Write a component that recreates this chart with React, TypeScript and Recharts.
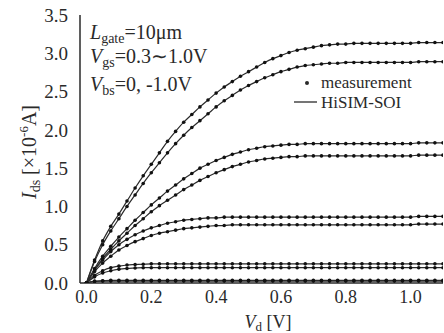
import React from "react";
import { LineChart, Line, XAxis, YAxis, Customized } from "recharts";

// drain voltage Vd [V]
const vd = [
  0, 0.025, 0.05, 0.075, 0.1, 0.125, 0.15, 0.175, 0.2,
  0.225, 0.25, 0.275, 0.3, 0.325, 0.35, 0.375, 0.4, 0.425,
  0.45, 0.475, 0.5, 0.525, 0.55, 0.575, 0.6, 0.625, 0.65,
  0.675, 0.7, 0.725, 0.75, 0.775, 0.8, 0.825, 0.85, 0.875,
  0.9, 0.925, 0.95, 0.975, 1.0, 1.025, 1.05, 1.075, 1.1,
];

// Ids [x10^-6 A], highest Vgs first, Vbs = 0 then Vbs = -1.0V
const idsA = [
  0, 0.3, 0.55, 0.74, 0.9, 1.07, 1.24, 1.4, 1.55,
  1.7, 1.85, 1.98, 2.1, 2.2, 2.3, 2.39, 2.48, 2.56,
  2.63, 2.7, 2.76, 2.82, 2.88, 2.93, 2.97, 3.01, 3.04,
  3.06, 3.08, 3.1, 3.11, 3.12, 3.12, 3.13, 3.13, 3.13,
  3.13, 3.13, 3.13, 3.13, 3.13, 3.14, 3.14, 3.14, 3.14,
];
const idsB = [
  0, 0.28, 0.5, 0.68, 0.84, 1.0, 1.15, 1.3, 1.44,
  1.57, 1.7, 1.82, 1.93, 2.03, 2.12, 2.21, 2.3, 2.38,
  2.45, 2.52, 2.58, 2.63, 2.68, 2.72, 2.76, 2.79, 2.82,
  2.84, 2.85, 2.86, 2.87, 2.87, 2.88, 2.88, 2.88, 2.88,
  2.88, 2.88, 2.88, 2.88, 2.88, 2.89, 2.89, 2.89, 2.89,
];
const idsC = [
  0, 0.19, 0.35, 0.48, 0.6, 0.71, 0.82, 0.92, 1.02,
  1.11, 1.2, 1.28, 1.36, 1.43, 1.5, 1.55, 1.6, 1.64,
  1.68, 1.71, 1.74, 1.76, 1.78, 1.79, 1.8, 1.81, 1.81,
  1.82, 1.82, 1.82, 1.82, 1.82, 1.82, 1.82, 1.82, 1.82,
  1.82, 1.82, 1.82, 1.82, 1.82, 1.83, 1.83, 1.83, 1.83,
];
const idsD = [
  0, 0.17, 0.32, 0.44, 0.55, 0.65, 0.75, 0.84, 0.93,
  1.01, 1.08, 1.15, 1.22, 1.28, 1.34, 1.39, 1.44, 1.48,
  1.52, 1.55, 1.58, 1.6, 1.62, 1.63, 1.64, 1.65, 1.65,
  1.66, 1.66, 1.66, 1.66, 1.66, 1.66, 1.66, 1.66, 1.66,
  1.66, 1.66, 1.66, 1.66, 1.66, 1.67, 1.67, 1.67, 1.67,
];
const idsE = [
  0, 0.17, 0.3, 0.41, 0.5, 0.57, 0.63, 0.68, 0.72,
  0.75, 0.78, 0.8, 0.82, 0.83, 0.84, 0.85, 0.85, 0.86,
  0.86, 0.86, 0.86, 0.86, 0.86, 0.86, 0.86, 0.86, 0.86,
  0.86, 0.86, 0.86, 0.86, 0.86, 0.86, 0.86, 0.86, 0.86,
  0.86, 0.86, 0.86, 0.86, 0.86, 0.87, 0.87, 0.87, 0.87,
];
const idsF = [
  0, 0.15, 0.26, 0.35, 0.43, 0.49, 0.54, 0.58, 0.62,
  0.65, 0.67, 0.69, 0.71, 0.72, 0.73, 0.74, 0.75, 0.75,
  0.76, 0.76, 0.76, 0.76, 0.76, 0.76, 0.76, 0.76, 0.76,
  0.76, 0.76, 0.76, 0.76, 0.76, 0.76, 0.76, 0.76, 0.76,
  0.76, 0.76, 0.76, 0.76, 0.76, 0.77, 0.77, 0.77, 0.77,
];
const idsG = [
  0, 0.1, 0.16, 0.2, 0.22, 0.235, 0.24, 0.245, 0.25,
  0.25, 0.25, 0.25, 0.25, 0.25, 0.25, 0.25, 0.25, 0.25,
  0.25, 0.25, 0.25, 0.25, 0.25, 0.25, 0.25, 0.25, 0.25,
  0.25, 0.25, 0.25, 0.25, 0.25, 0.25, 0.25, 0.25, 0.25,
  0.25, 0.25, 0.25, 0.25, 0.25, 0.25, 0.25, 0.25, 0.25,
];
const idsH = [
  0, 0.08, 0.13, 0.16, 0.18, 0.19, 0.195, 0.2, 0.2,
  0.2, 0.2, 0.2, 0.2, 0.2, 0.2, 0.2, 0.2, 0.2,
  0.2, 0.2, 0.2, 0.2, 0.2, 0.2, 0.2, 0.2, 0.2,
  0.2, 0.2, 0.2, 0.2, 0.2, 0.2, 0.2, 0.2, 0.2,
  0.2, 0.2, 0.2, 0.2, 0.2, 0.2, 0.2, 0.2, 0.2,
];
const idsI = [
  0, 0.025, 0.03, 0.035, 0.035, 0.035, 0.035, 0.035, 0.035,
  0.035, 0.035, 0.035, 0.035, 0.035, 0.035, 0.035, 0.035, 0.035,
  0.035, 0.035, 0.035, 0.035, 0.035, 0.035, 0.035, 0.035, 0.035,
  0.035, 0.035, 0.035, 0.035, 0.035, 0.035, 0.035, 0.035, 0.035,
  0.035, 0.035, 0.035, 0.035, 0.035, 0.035, 0.035, 0.035, 0.035,
];
const idsJ = [
  0, 0.02, 0.025, 0.025, 0.025, 0.025, 0.025, 0.025, 0.025,
  0.025, 0.025, 0.025, 0.025, 0.025, 0.025, 0.025, 0.025, 0.025,
  0.025, 0.025, 0.025, 0.025, 0.025, 0.025, 0.025, 0.025, 0.025,
  0.025, 0.025, 0.025, 0.025, 0.025, 0.025, 0.025, 0.025, 0.025,
  0.025, 0.025, 0.025, 0.025, 0.025, 0.025, 0.025, 0.025, 0.025,
];

const xTicks = [0, 0.2, 0.4, 0.6, 0.8, 1.0];
const yTicks = [0, 0.5, 1.0, 1.5, 2.0, 2.5, 3.0, 3.5];

const series: Record<string, number[]> = {
  a: idsA, b: idsB, c: idsC, d: idsD, e: idsE,
  f: idsF, g: idsG, h: idsH, i: idsI, j: idsJ,
};

const data = vd.map((v, idx) => {
  const row: Record<string, number> = { vd: v };
  Object.keys(series).forEach((k) => (row[k] = series[k][idx]));
  return row;
});

const serif = '"Liberation Serif", "Times New Roman", serif';
const ink = "#2a2a2a";
const xDomain = [-0.02, 1.1];
const yDomain = [0, 3.5];

const Notes = () => (
  <g fontFamily={serif} fill={ink}>
    <text x={90} y={39} fontSize={20}>
      <tspan fontStyle="italic">L</tspan>
      <tspan fontSize={14} dy={4}>gate</tspan>
      <tspan dy={-4}>=10μm</tspan>
    </text>
    <text x={90} y={63} fontSize={20}>
      <tspan fontStyle="italic">V</tspan>
      <tspan fontSize={14} dy={4}>gs</tspan>
      <tspan dy={-4}>=0.3∼1.0V</tspan>
    </text>
    <text x={90} y={91} fontSize={20}>
      <tspan fontStyle="italic">V</tspan>
      <tspan fontSize={14} dy={4}>bs</tspan>
      <tspan dy={-4}>=0, -1.0V</tspan>
    </text>

    <circle cx={307} cy={83} r={2} fill={ink} />
    <text x={321} y={88} fontSize={17}>measurement</text>
    <line x1={294} x2={317} y1={102} y2={102} stroke={ink} strokeWidth={1.3} />
    <text x={321} y={108} fontSize={17}>HiSIM-SOI</text>

    <text x={36} y={152} fontSize={20} textAnchor="middle" transform="rotate(-90 36 152)">
      <tspan fontStyle="italic">I</tspan>
      <tspan fontSize={14} dy={4}>ds</tspan>
      <tspan dy={-4}> [×10</tspan>
      <tspan fontSize={13} dy={-8}>-6</tspan>
      <tspan dy={8}>A]</tspan>
    </text>
    <text x={268} y={328} fontSize={18} textAnchor="middle">
      <tspan fontStyle="italic">V</tspan>
      <tspan fontSize={13} dy={3}>d</tspan>
      <tspan dy={-3}> [V]</tspan>
    </text>
  </g>
);

export default function App() {
  return (
    <div style={{ width: 444, height: 333, background: "#fff" }}>
      <style>{"body{margin:0}"}</style>
      <LineChart width={444} height={333} data={data} margin={{ top: 15, right: 1, bottom: 0, left: 0 }}>
        {/* inner ticks and frame */}
        <XAxis xAxisId="bIn" dataKey="vd" type="number" domain={xDomain} allowDataOverflow ticks={xTicks}
          orientation="bottom" mirror height={0} tick={false} tickSize={5} axisLine={false}
          tickLine={{ stroke: ink }} />
        <XAxis xAxisId="top" dataKey="vd" type="number" domain={xDomain} allowDataOverflow ticks={xTicks}
          orientation="top" mirror height={0} tick={false} tickSize={5}
          axisLine={{ stroke: ink, strokeWidth: 1.5 }} tickLine={{ stroke: ink }} />
        <YAxis yAxisId="lIn" type="number" domain={yDomain} allowDataOverflow ticks={yTicks}
          orientation="left" mirror width={0} tick={false} tickSize={5} axisLine={false}
          tickLine={{ stroke: ink }} />
        <YAxis yAxisId="right" type="number" domain={yDomain} allowDataOverflow ticks={yTicks}
          orientation="right" mirror width={0} tick={false} tickSize={5}
          axisLine={{ stroke: ink, strokeWidth: 1.5 }} tickLine={{ stroke: ink }} />

        <XAxis dataKey="vd" type="number" domain={xDomain} allowDataOverflow ticks={xTicks}
          height={50} tickLine={false} tickSize={0} tickMargin={7}
          tickFormatter={(v: number) => v.toFixed(1)}
          tick={{ fill: ink, fontSize: 18, fontFamily: serif }}
          axisLine={{ stroke: ink, strokeWidth: 1.5 }} />
        <YAxis type="number" domain={yDomain} allowDataOverflow ticks={yTicks}
          width={80} tickLine={false} tickSize={0} tickMargin={12}
          tickFormatter={(v: number) => v.toFixed(1)}
          tick={{ fill: ink, fontSize: 19, fontFamily: serif }}
          axisLine={{ stroke: ink, strokeWidth: 1.5 }} />

        {Object.keys(series).map((k) => (
          <Line key={k} dataKey={k} type="monotone" stroke={ink} strokeWidth={1.2}
            dot={{ r: 1.8, fill: "#111", stroke: "none" }} isAnimationActive={false} />
        ))}
        <Customized component={<Notes />} />
      </LineChart>
    </div>
  );
}
